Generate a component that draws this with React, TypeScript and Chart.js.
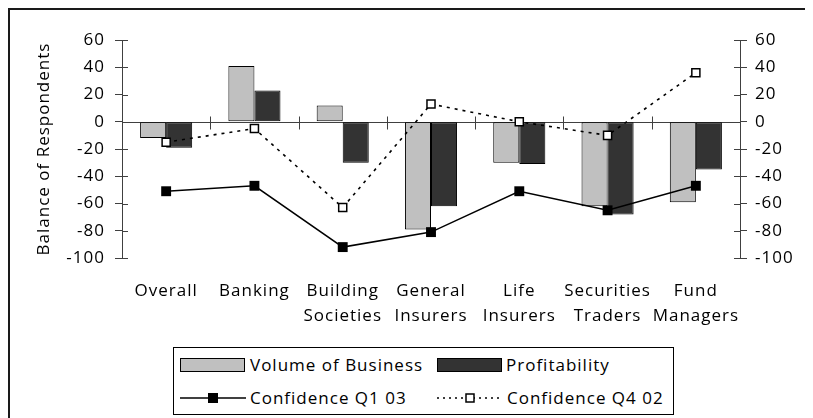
import React, { useEffect, useRef } from "react";
import { Chart, registerables } from "chart.js";

Chart.register(...registerables);

const categories: string[][] = [
  ["Overall"],
  ["Banking"],
  ["Building", "Societies"],
  ["General", "Insurers"],
  ["Life", "Insurers"],
  ["Securities", "Traders"],
  ["Fund", "Managers"],
];
const volumeOfBusiness = [-12, 41, 12, -79, -30, -62, -59];
const profitability = [-19, 23, -30, -62, -31, -68, -35];
const confidenceQ103 = [-51, -47, -92, -81, -51, -65, -47];
const confidenceQ402 = [-15, -5, -63, 13, 0, -10, 36];
const yMin = -100;
const yMax = 60;
const yStep = 20;

const FONT = "'Open Sans', Lato, sans-serif";
const FSIZE = 17;
const LETTER = "1px";
const AXIS_COLOR = "#404040";

const spacing = {
  id: "spacing",
  beforeLayout(chart: any) {
    chart.ctx.letterSpacing = LETTER;
  },
  beforeDraw(chart: any) {
    chart.ctx.letterSpacing = LETTER;
  },
};

const axisDecor = {
  id: "axisDecor",
  beforeDatasetsDraw(chart: any) {
    const { ctx, chartArea, scales } = chart;
    const x = scales.x;
    const y = scales.y;
    const y2 = scales.y2;
    const z = Math.round(y.getPixelForValue(0)) + 0.5;
    ctx.save();
    ctx.strokeStyle = AXIS_COLOR;
    ctx.lineWidth = 1;
    ctx.beginPath();
    ctx.moveTo(chartArea.left, z);
    ctx.lineTo(chartArea.right, z);
    ctx.stroke();
    const n = categories.length;
    const half = n > 1 ? (x.getPixelForValue(1) - x.getPixelForValue(0)) / 2 : x.width / 2;
    ctx.beginPath();
    for (let i = 0; i <= n; i++) {
      const px = Math.round(i < n ? x.getPixelForValue(i) - half : x.getPixelForValue(n - 1) + half) + 0.5;
      ctx.moveTo(px, z - 6);
      ctx.lineTo(px, z + 7);
    }
    y.ticks.forEach((t: any) => {
      const py = Math.round(y.getPixelForValue(t.value)) + 0.5;
      ctx.moveTo(chartArea.left, py);
      ctx.lineTo(chartArea.left + 6, py);
    });
    y2.ticks.forEach((t: any) => {
      const py = Math.round(y2.getPixelForValue(t.value)) + 0.5;
      ctx.moveTo(chartArea.right - 6, py);
      ctx.lineTo(chartArea.right, py);
    });
    ctx.stroke();
    ctx.restore();
  },
};

function LegendSwatchBar({ color }: { color: string }) {
  return (
    <svg width={66} height={16} style={{ display: "block" }}>
      <rect x={0.5} y={1.5} width={64} height={13} fill={color} stroke="#000" strokeWidth={1} />
    </svg>
  );
}

function LegendSwatchLine({ dashed }: { dashed: boolean }) {
  return (
    <svg width={66} height={16} style={{ display: "block" }}>
      <line
        x1={0}
        y1={8}
        x2={66}
        y2={8}
        stroke="#000"
        strokeWidth={1.5}
        strokeDasharray={dashed ? "2 4" : undefined}
      />
      {dashed ? (
        <rect x={29} y={4} width={8} height={8} fill="#fff" stroke="#000" strokeWidth={1.5} />
      ) : (
        <rect x={28} y={3} width={10} height={10} fill="#000" />
      )}
    </svg>
  );
}

export default function App() {
  const canvasRef = useRef<HTMLCanvasElement | null>(null);

  useEffect(() => {
    if (!canvasRef.current) return;
    const tickFont = { family: FONT, size: FSIZE };
    const chart = new Chart(canvasRef.current, {
      type: "bar",
      data: {
        labels: categories,
        datasets: [
          {
            type: "line",
            label: "Confidence Q1 03",
            data: confidenceQ103,
            yAxisID: "y2",
            borderColor: "#000",
            borderWidth: 1.5,
            pointStyle: "rect",
            pointRadius: 7,
            pointBackgroundColor: "#000",
            pointBorderColor: "#000",
            pointBorderWidth: 0,
            tension: 0,
            order: 0,
          },
          {
            type: "line",
            label: "Confidence Q4 02",
            data: confidenceQ402,
            yAxisID: "y2",
            borderColor: "#000",
            borderWidth: 1.6,
            borderDash: [3, 5],
            pointStyle: "rect",
            pointRadius: 5.7,
            pointBackgroundColor: "#fff",
            pointBorderColor: "#000",
            pointBorderWidth: 1.5,
            tension: 0,
            order: 0,
          },
          {
            type: "bar",
            label: "Volume of Business",
            data: volumeOfBusiness,
            yAxisID: "y",
            backgroundColor: "#C0C0C0",
            borderColor: "#000",
            borderWidth: 1,
            borderSkipped: false,
            categoryPercentage: 0.59,
            barPercentage: 1,
            order: 1,
          },
          {
            type: "bar",
            label: "Profitability",
            data: profitability,
            yAxisID: "y",
            backgroundColor: "#333333",
            borderColor: "#000",
            borderWidth: 1,
            borderSkipped: false,
            categoryPercentage: 0.59,
            barPercentage: 1,
            order: 1,
          },
        ] as any,
      },
      options: {
        animation: false,
        responsive: false,
        maintainAspectRatio: false,
        layout: { padding: { top: 32, left: 0, right: 0, bottom: 0 } },
        plugins: {
          legend: { display: false },
          tooltip: { enabled: false },
        },
        scales: {
          x: {
            type: "category",
            offset: true,
            grid: { display: false },
            border: { display: false },
            ticks: {
              color: "#000",
              font: { ...tickFont, lineHeight: 1.5 },
              maxRotation: 0,
              autoSkip: false,
              padding: 12,
            },
            afterFit: (s: any) => {
              s.height = 80;
            },
          },
          y: {
            position: "left",
            min: yMin,
            max: yMax,
            ticks: { stepSize: yStep, color: "#000", font: tickFont, padding: 10 },
            grid: { drawOnChartArea: false, drawTicks: true, tickLength: 7, color: AXIS_COLOR },
            border: { display: true, color: AXIS_COLOR, width: 1 },
            title: {
              display: true,
              text: "Balance of Respondents",
              color: "#000",
              font: tickFont,
              padding: { top: 26, bottom: 0 },
            },
            afterFit: (s: any) => {
              s.width = 114;
            },
          },
          y2: {
            position: "right",
            min: yMin,
            max: yMax,
            ticks: { stepSize: yStep, color: "#000", font: tickFont, padding: 8 },
            grid: { drawOnChartArea: false, drawTicks: true, tickLength: 7, color: AXIS_COLOR },
            border: { display: true, color: AXIS_COLOR, width: 1 },
            afterFit: (s: any) => {
              s.width = 73;
            },
          },
        },
      } as any,
      plugins: [spacing, axisDecor],
    });
    return () => chart.destroy();
  }, []);

  const textStyle: React.CSSProperties = {
    position: "absolute",
    fontFamily: FONT,
    fontSize: FSIZE,
    letterSpacing: LETTER,
    lineHeight: "20px",
    color: "#000",
    whiteSpace: "nowrap",
  };

  return (
    <div style={{ position: "relative", width: 805, height: 410 }}>
      <div
        style={{
          position: "absolute",
          left: 0,
          top: 0,
          width: 805,
          height: 410,
          borderTop: "2px solid #1a1a1a",
          borderLeft: "2px solid #1a1a1a",
          boxSizing: "border-box",
        }}
      />
      <canvas
        ref={canvasRef}
        width={805}
        height={330}
        style={{ position: "absolute", left: 0, top: 0, width: 805, height: 330 }}
      />
      <div
        style={{
          position: "absolute",
          left: 165,
          top: 339,
          width: 501,
          height: 68,
          border: "1px solid #000",
          boxSizing: "border-box",
          background: "#fff",
        }}
      >
        <div style={{ position: "absolute", left: 6, top: 9 }}>
          <LegendSwatchBar color="#C0C0C0" />
        </div>
        <div style={{ ...textStyle, left: 76, top: 7 }}>Volume of Business</div>
        <div style={{ position: "absolute", left: 263, top: 9 }}>
          <LegendSwatchBar color="#333333" />
        </div>
        <div style={{ ...textStyle, left: 332, top: 7 }}>Profitability</div>
        <div style={{ position: "absolute", left: 6, top: 42 }}>
          <LegendSwatchLine dashed={false} />
        </div>
        <div style={{ ...textStyle, left: 76, top: 40 }}>Confidence Q1 03</div>
        <div style={{ position: "absolute", left: 263, top: 42 }}>
          <LegendSwatchLine dashed={true} />
        </div>
        <div style={{ ...textStyle, left: 333, top: 40 }}>Confidence Q4 02</div>
      </div>
    </div>
  );
}
